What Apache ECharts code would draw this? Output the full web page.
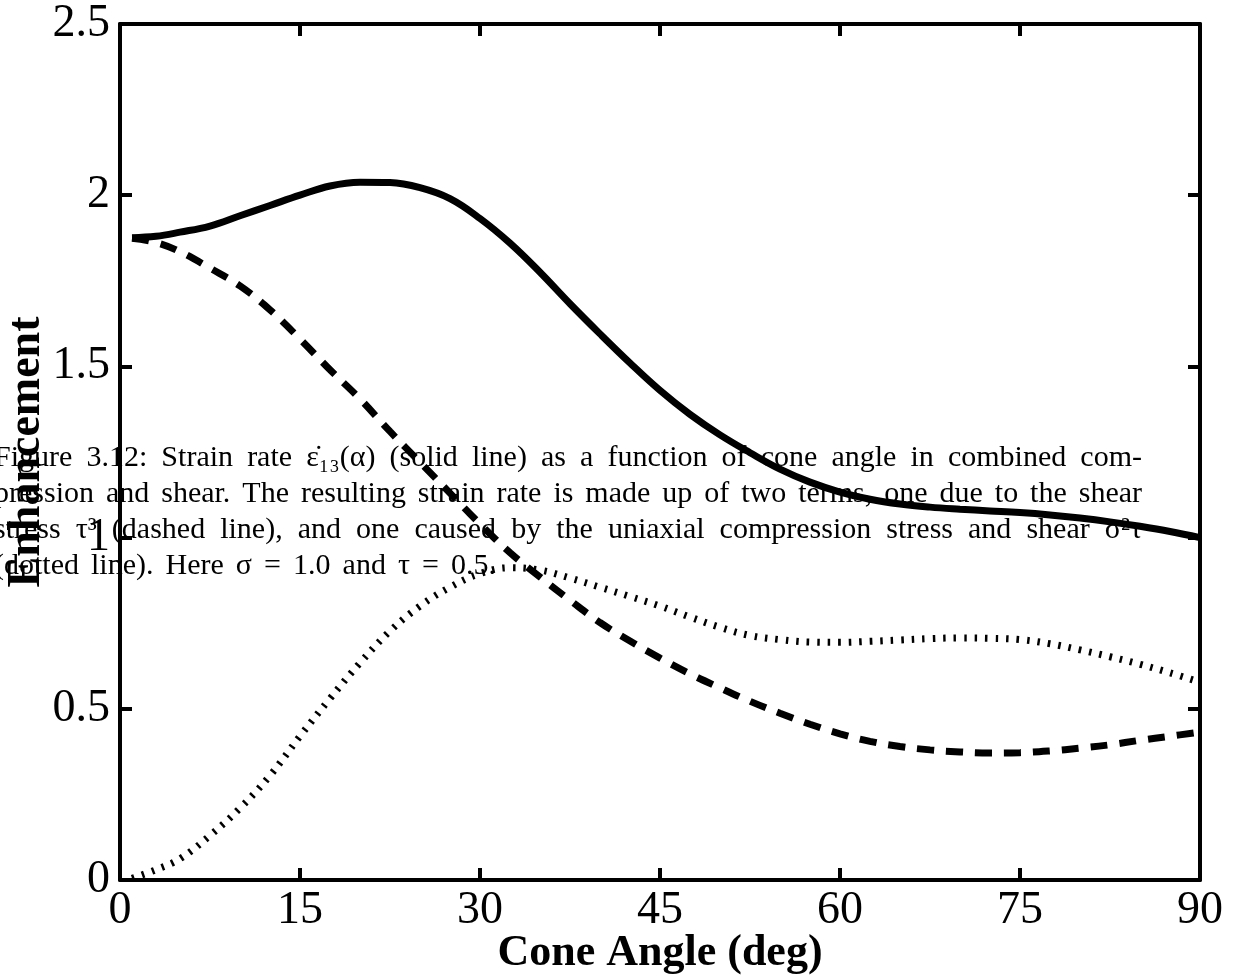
<!DOCTYPE html>
<html>
<head>
<meta charset="utf-8">
<script src="https://cdn.jsdelivr.net/npm/echarts@6/dist/echarts.min.js"></script>
<style>
html,body{margin:0;padding:0;background:#fff;}
#chart{width:1242px;height:979px;}
</style>
</head>
<body>
<div id="chart"></div>
<script>
// ---- data ----
var angles = [1, 3, 5, 7.5, 10, 12.5, 15, 17.5, 20, 22.5, 25, 27.5, 30, 32.5, 35, 37.5, 40, 42.5, 45, 47.5, 50, 52.5, 55, 57.5, 60, 62.5, 65, 67.5, 70, 72.5, 75, 77.5, 80, 82.5, 85, 87.5, 90];
var totalRate = [1.876, 1.880, 1.892, 1.910, 1.940, 1.970, 2.000, 2.027, 2.038, 2.037, 2.022, 1.990, 1.932, 1.860, 1.775, 1.683, 1.595, 1.510, 1.430, 1.360, 1.300, 1.248, 1.200, 1.162, 1.133, 1.112, 1.098, 1.089, 1.083, 1.078, 1.073, 1.066, 1.057, 1.046, 1.033, 1.018, 1.000];
var shearTerm = [1.874, 1.862, 1.835, 1.787, 1.735, 1.665, 1.580, 1.490, 1.405, 1.310, 1.220, 1.130, 1.040, 0.956, 0.885, 0.817, 0.752, 0.698, 0.648, 0.602, 0.561, 0.522, 0.487, 0.455, 0.427, 0.405, 0.390, 0.380, 0.374, 0.371, 0.372, 0.377, 0.385, 0.395, 0.408, 0.420, 0.432];
var compressionTerm = [0.005, 0.030, 0.062, 0.130, 0.210, 0.305, 0.420, 0.530, 0.634, 0.727, 0.800, 0.855, 0.895, 0.912, 0.905, 0.882, 0.855, 0.828, 0.800, 0.768, 0.738, 0.714, 0.702, 0.695, 0.694, 0.697, 0.701, 0.705, 0.707, 0.706, 0.702, 0.690, 0.672, 0.652, 0.630, 0.605, 0.578];
var xTicks = [0, 15, 30, 45, 60, 75, 90];
var yTicks = [0, 0.5, 1, 1.5, 2, 2.5];
var captionLines = [
  "Figure 3.12: Strain rate \u03B5\u0307\u2081\u2083(\u03B1) (solid line) as a function of cone angle in combined com-",
  "pression and shear. The resulting strain rate is made up of two terms, one due to the shear",
  "stress \u03C4\u00B3 (dashed line), and one caused by the uniaxial compression stress and shear \u03C3\u00B2\u03C4",
  "(dotted line). Here \u03C3 = 1.0 and \u03C4 = 0.5."
];

function pairs(xs, ys) { return xs.map(function (x, i) { return [x, ys[i]]; }); }

// ---- caption layout (justified words) ----
var capFont = 30, capFamily = '"Liberation Serif", "Times New Roman", serif';
var capLeft = -6;
var capRights = [1142, 1142, 1142, 496];
var capBaselines = [468, 504, 540, 576];
var ctx = document.createElement('canvas').getContext('2d');
ctx.font = capFont + 'px ' + capFamily;
var captionEls = [];
captionLines.forEach(function (line, li) {
  var words = line.split(' ');
  var widths = words.map(function (w) { return ctx.measureText(w).width; });
  var sum = widths.reduce(function (a, b) { return a + b; }, 0);
  var gap = (capRights[li] - capLeft - sum) / (words.length - 1);
  var x = capLeft;
  words.forEach(function (w, wi) {
    captionEls.push({
      type: 'text', z: 0, silent: true,
      x: x, y: capBaselines[li] - capFont * 0.32,
      style: { text: w, fill: '#000', font: capFont + 'px ' + capFamily, textAlign: 'left', textVerticalAlign: 'middle' }
    });
    x += widths[wi] + gap;
  });
});

var chart = echarts.init(document.getElementById('chart'), null, { renderer: 'canvas' });
var axisLineStyle = { color: '#000', width: 4 };
var tickStyle = { color: '#000', width: 4 };
var serif = 'Liberation Serif';

function frameAxis(extra) {
  var base = {
    type: 'value',
    axisLine: { onZero: false, lineStyle: axisLineStyle },
    axisTick: { inside: true, length: 12, lineStyle: tickStyle },
    splitLine: { show: false }
  };
  for (var k in extra) base[k] = extra[k];
  return base;
}

var option = {
  animation: false,
  backgroundColor: '#fff',
  grid: { left: 120, right: 42, top: 24, bottom: 99, containLabel: false, outerBoundsMode: 'none' },
  xAxis: [frameAxis({
    min: xTicks[0], max: xTicks[xTicks.length - 1], interval: xTicks[1] - xTicks[0],
    position: 'bottom',
    axisLabel: { fontFamily: serif, fontSize: 46, color: '#000', margin: 8 },
    name: 'Cone Angle (deg)', nameLocation: 'middle', nameGap: 52, nameMoveOverlap: false,
    nameTextStyle: { fontFamily: serif, fontWeight: 'bold', fontSize: 44, color: '#000' }
  }), frameAxis({
    min: xTicks[0], max: xTicks[xTicks.length - 1], interval: xTicks[1] - xTicks[0],
    position: 'top',
    axisLabel: { show: false }
  })],
  yAxis: [frameAxis({
    min: yTicks[0], max: yTicks[yTicks.length - 1], interval: yTicks[1] - yTicks[0],
    position: 'left',
    axisLabel: { fontFamily: serif, fontSize: 46, color: '#000', margin: 10 },
    name: 'Enhancement', nameLocation: 'middle', nameGap: 70, nameMoveOverlap: false,
    nameTextStyle: { fontFamily: serif, fontWeight: 'bold', fontSize: 46, color: '#000' }
  }), frameAxis({
    min: yTicks[0], max: yTicks[yTicks.length - 1], interval: yTicks[1] - yTicks[0],
    position: 'right',
    axisLabel: { show: false }
  })],
  graphic: { elements: captionEls },
  series: [{
    name: 'compression', type: 'line', showSymbol: false, smooth: 0.4, z: 3,
    data: pairs(angles, compressionTerm),
    lineStyle: { color: '#000', width: 7, type: [2.5, 8], cap: 'butt' }
  }, {
    name: 'shear', type: 'line', showSymbol: false, smooth: 0.4, z: 4,
    data: pairs(angles, shearTerm),
    lineStyle: { color: '#000', width: 7, type: [17, 12], cap: 'butt' }
  }, {
    name: 'total', type: 'line', showSymbol: false, smooth: 0.4, z: 5,
    data: pairs(angles, totalRate),
    lineStyle: { color: '#000', width: 7, type: 'solid' }
  }]
};
chart.setOption(option);
</script>
</body>
</html>
